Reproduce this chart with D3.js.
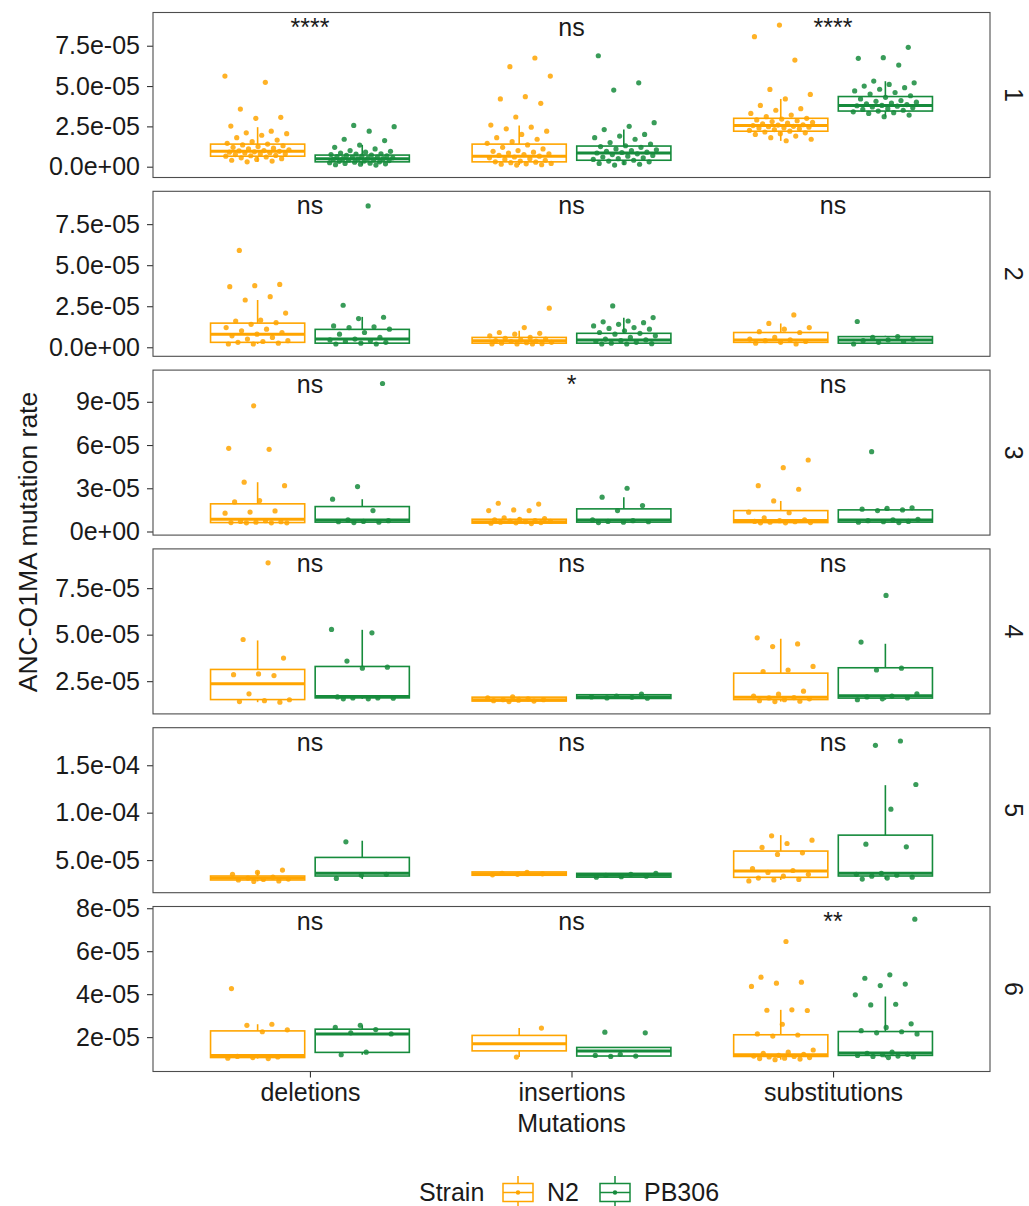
<!DOCTYPE html>
<html>
<head>
<meta charset="utf-8">
<script src="https://cdn.jsdelivr.net/npm/d3@7"></script>
<style>
  body { margin: 0; background: #fff; }
  text { font-family: "Liberation Sans", Arial, Helvetica, sans-serif; }
</style>
</head>
<body>
<svg id="chart" width="1029" height="1206"></svg>
<script>
// all rates below are in units of 1e-5
const categories = ['deletions', 'insertions', 'substitutions']
const strains = ['N2', 'PB306']
const facets = ['1', '2', '3', '4', '5', '6']

const yTicks = [
  [0, 2.5, 5, 7.5],
  [0, 2.5, 5, 7.5],
  [0, 3, 6, 9],
  [2.5, 5, 7.5],
  [5, 10, 15],
  [2, 4, 6, 8]
]
const yTickLabels = [
  ['0.0e+00', '2.5e-05', '5.0e-05', '7.5e-05'],
  ['0.0e+00', '2.5e-05', '5.0e-05', '7.5e-05'],
  ['0e+00', '3e-05', '6e-05', '9e-05'],
  ['2.5e-05', '5.0e-05', '7.5e-05'],
  ['5.0e-05', '1.0e-04', '1.5e-04'],
  ['2e-05', '4e-05', '6e-05', '8e-05']
]
const yDomains = [
  [-0.67, 9.56], [-0.55, 9.5], [-0.25, 11.2],
  [0.74, 9.61], [1.56, 18.96], [0.40, 8.08]
]

const sigLabels = [
  ['****', 'ns', '****'],
  ['ns', 'ns', 'ns'],
  ['ns', '*', 'ns'],
  ['ns', 'ns', 'ns'],
  ['ns', 'ns', 'ns'],
  ['ns', 'ns', '**']
]

// box stats [lower whisker, q1, median, q3, upper whisker] per facet, per category
const n2Box = [
  [[0.3, 0.65, 0.95, 1.4, 2.45], [0.1, 0.3, 0.65, 1.4, 2.55], [1.6, 2.2, 2.55, 3.0, 4.2]],
  [[0.2, 0.3, 0.8, 1.47, 2.88], [0.2, 0.25, 0.4, 0.6, 1.0], [0.2, 0.3, 0.45, 0.9, 1.45]],
  [[0.6, 0.62, 0.85, 1.92, 3.42], [0.55, 0.58, 0.68, 0.85, 1.0], [0.6, 0.62, 0.76, 1.45, 2.12]],
  [[1.37, 1.51, 2.36, 3.13, 4.69], [1.4, 1.43, 1.5, 1.64, 1.66], [1.4, 1.51, 1.64, 2.93, 4.78]],
  [[2.75, 2.9, 3.1, 3.32, 3.8], [3.35, 3.4, 3.55, 3.75, 3.8], [2.9, 3.18, 3.85, 5.95, 7.63]],
  [[1.0, 1.05, 1.15, 2.29, 2.6], [1.07, 1.36, 1.69, 2.08, 2.42], [0.95, 1.1, 1.18, 2.11, 3.27]]
]
const pbBox = [
  [[0.1, 0.3, 0.5, 0.72, 1.35], [0.1, 0.4, 0.85, 1.28, 2.3], [3.1, 3.45, 3.8, 4.35, 5.3]],
  [[0.2, 0.25, 0.5, 1.09, 1.85], [0.2, 0.25, 0.45, 0.85, 1.8], [0.2, 0.25, 0.45, 0.65, 0.7]],
  [[0.62, 0.65, 0.8, 1.73, 2.24], [0.62, 0.65, 0.8, 1.57, 2.38], [0.62, 0.65, 0.8, 1.5, 1.64]],
  [[1.55, 1.6, 1.68, 3.29, 5.26], [1.55, 1.57, 1.65, 1.77, 1.8], [1.5, 1.59, 1.71, 3.22, 4.51]],
  [[3.0, 3.32, 3.6, 5.28, 7.04], [3.18, 3.2, 3.4, 3.6, 3.65], [3.0, 3.32, 3.6, 7.63, 12.9]],
  [[1.18, 1.29, 2.14, 2.37, 2.55], [1.1, 1.12, 1.36, 1.52, 1.52], [1.05, 1.15, 1.26, 2.26, 3.89]]
]

const n2Points = [
  [
    [5.62,5.23,3.57,3.06,3.0,2.52,2.2,2.1,2.05,1.95,1.8,1.65,1.55,1.45,1.4,1.35,1.3,1.25,1.2,1.15,1.1,1.05,1.0,0.98,0.95,0.92,0.9,0.87,0.85,0.8,0.78,0.75,0.7,0.68,0.65,0.6,0.55,0.5,0.45,0.4,0.35,0.3],
    [6.74,6.2,5.62,4.34,4.2,3.93,3.08,2.58,2.45,2.35,2.2,2.0,1.8,1.7,1.55,1.45,1.35,1.2,1.1,1.0,0.95,0.9,0.85,0.8,0.75,0.7,0.65,0.6,0.55,0.5,0.45,0.4,0.35,0.3,0.28,0.25,0.2,0.18,0.15,0.12,0.1],
    [8.78,8.06,6.61,4.79,4.48,4.2,3.8,3.6,3.5,3.3,3.2,3.1,3.0,2.95,2.9,2.85,2.8,2.75,2.7,2.65,2.6,2.58,2.55,2.5,2.48,2.45,2.42,2.4,2.35,2.3,2.25,2.2,2.15,2.1,2.05,2.0,1.9,1.8,1.7,1.61]
  ],
  [
    [5.9,3.83,3.75,3.69,3.08,2.88,2.08,1.65,1.6,1.5,1.4,1.2,1.1,1.0,0.9,0.8,0.7,0.6,0.5,0.4,0.35,0.3,0.25,0.2,0.2],
    [2.38,1.2,0.9,0.85,0.8,0.7,0.6,0.55,0.5,0.45,0.4,0.38,0.35,0.3,0.28,0.25,0.22,0.2,0.2,0.2],
    [1.97,1.45,1.2,1.1,0.95,0.9,0.6,0.5,0.45,0.4,0.35,0.3,0.25,0.2]
  ],
  [
    [8.72,5.77,5.7,3.42,3.18,2.15,2.05,1.43,1.35,1.27,0.75,0.7,0.68,0.65,0.62,0.6,0.6,0.6],
    [1.96,1.9,1.5,1.45,1.45,0.95,0.9,0.85,0.8,0.75,0.72,0.7,0.68,0.65,0.62,0.6,0.58,0.55],
    [4.96,4.43,3.18,2.93,2.12,1.34,1.3,0.95,0.8,0.75,0.7,0.68,0.65,0.62,0.6,0.6]
  ],
  [
    [8.86,4.74,3.74,2.89,2.85,2.8,1.82,1.5,1.45,1.4,1.37],
    [1.65,1.6,1.55,1.5,1.5,1.48,1.45,1.43,1.4],
    [4.83,4.5,4.36,3.29,3.1,3.02,1.96,1.8,1.7,1.62,1.6,1.55,1.5,1.45,1.42,1.4]
  ],
  [
    [3.95,3.7,3.5,3.2,3.1,3.0,2.95,2.9,2.8,2.75],
    [3.7,3.6,3.55,3.5,3.45],
    [7.56,7.1,6.75,6.33,5.77,5.6,4.1,3.9,3.7,3.5,3.3,3.1,2.96,2.9,2.8]
  ],
  [
    [4.26,2.6,2.55,2.34,2.25,1.1,1.08,1.05,1.02,1.0],
    [2.42,1.07],
    [6.45,4.79,4.56,4.51,4.36,3.27,3.25,3.24,2.6,2.15,2.1,2.05,1.4,1.3,1.25,1.2,1.15,1.12,1.1,1.08,1.05,1.02,1.0,0.98,0.95]
  ]
]
const pbPoints = [
  [
    [2.56,2.48,2.2,1.7,1.62,1.34,1.2,1.1,1.0,0.95,0.9,0.85,0.8,0.78,0.75,0.72,0.7,0.68,0.65,0.62,0.6,0.58,0.55,0.52,0.5,0.5,0.48,0.45,0.42,0.4,0.38,0.35,0.33,0.3,0.28,0.25,0.22,0.2,0.18,0.15,0.12,0.1],
    [6.88,5.2,4.75,2.73,2.5,2.3,2.0,1.9,1.8,1.7,1.5,1.4,1.3,1.25,1.2,1.1,1.05,1.0,0.95,0.9,0.88,0.85,0.8,0.75,0.7,0.65,0.6,0.55,0.5,0.45,0.4,0.35,0.3,0.25,0.2,0.15,0.1],
    [7.4,6.76,6.72,6.3,5.31,5.2,5.1,5.0,4.9,4.8,4.7,4.6,4.5,4.4,4.3,4.2,4.1,4.05,4.0,3.95,3.9,3.85,3.8,3.78,3.75,3.7,3.65,3.6,3.55,3.5,3.45,3.4,3.35,3.3,3.2,3.1]
  ],
  [
    [8.61,2.56,1.83,1.75,1.3,1.25,1.2,1.1,0.9,0.8,0.6,0.5,0.45,0.4,0.35,0.3,0.25,0.2,0.2],
    [2.52,1.81,1.6,1.55,1.5,1.4,1.3,1.2,1.15,1.1,1.0,0.9,0.85,0.8,0.7,0.6,0.5,0.45,0.4,0.35,0.3,0.25,0.22,0.2,0.2],
    [1.57,0.65,0.6,0.5,0.45,0.4,0.35,0.3,0.2]
  ],
  [
    [10.27,3.12,2.24,1.45,0.8,0.75,0.7,0.68,0.65,0.62],
    [3.0,2.38,1.8,1.45,0.8,0.75,0.7,0.68,0.65,0.62],
    [5.54,1.64,1.6,1.55,1.5,1.45,0.85,0.8,0.75,0.7,0.68,0.65,0.62]
  ],
  [
    [5.28,5.1,3.58,3.25,3.2,1.65,1.6,1.6,1.58,1.55,1.55],
    [1.8,1.7,1.65,1.63,1.6,1.58],
    [7.11,4.6,3.2,3.1,1.82,1.7,1.65,1.6,1.55,1.5]
  ],
  [
    [6.93,3.5,3.4,3.07],
    [3.6,3.5,3.4,3.3,3.25,3.2],
    [17.56,17.1,12.97,10.37,6.68,6.4,3.6,3.5,3.4,3.3,3.2,3.1,3.0]
  ],
  [
    [2.55,2.45,2.35,2.2,2.15,1.3,1.18],
    [2.23,2.2,1.2,1.15,1.12,1.1],
    [7.49,4.9,4.74,4.47,4.4,3.97,3.53,3.5,2.62,2.45,2.3,2.25,2.2,2.15,1.3,1.25,1.2,1.18,1.15,1.12,1.1,1.08,1.05]
  ]
]

const colors = {N2: '#FFA500', PB306: '#168B3C'}
const boxes = {N2: n2Box, PB306: pbBox}
const points = {N2: n2Points, PB306: pbPoints}

const svg = d3.select('#chart')
const fontSize = 25
const left = 153, right = 990
const panelH = 165
const panelTop = (i) => 12.5 + i * 178.8

const xScale = d3.scalePoint()
  .domain(categories)
  .range([left, right])
  .padding(0.6)
const step = xScale.step()
const dodge = {N2: -0.2, PB306: 0.2}
const boxW = 0.36 * step

facets.forEach((f, i) => {
  const top = panelTop(i)
  const yScale = d3.scaleLinear()
    .domain(yDomains[i])
    .range([top + panelH, top])

  const panel = svg.append('g')

  // y axis
  const ax = panel.append('g')
    .attr('transform', `translate(${left}, 0)`)
    .call(d3.axisLeft(yScale)
      .tickValues(yTicks[i])
      .tickFormat((d, j) => yTickLabels[i][j])
      .tickSize(6)
      .tickPadding(7))
  ax.select('.domain').remove()
  ax.selectAll('line').attr('stroke', '#333').attr('stroke-width', 1.1)
  ax.selectAll('text')
    .attr('font-size', fontSize)
    .attr('font-family', '"Liberation Sans", Arial, sans-serif')
    .attr('fill', '#1a1a1a')

  categories.forEach((cat, c) => {
    strains.forEach((s) => {
      const b = boxes[s][i][c]
      const cx = xScale(cat) + dodge[s] * step
      const col = colors[s]
      const g = panel.append('g')
      // whiskers
      g.append('line')
        .attr('x1', cx).attr('x2', cx)
        .attr('y1', yScale(b[3])).attr('y2', yScale(b[4]))
        .attr('stroke', col).attr('stroke-width', 1.6)
      g.append('line')
        .attr('x1', cx).attr('x2', cx)
        .attr('y1', yScale(b[1])).attr('y2', yScale(b[0]))
        .attr('stroke', col).attr('stroke-width', 1.6)
      g.append('rect')
        .attr('x', cx - boxW / 2)
        .attr('y', yScale(b[3]))
        .attr('width', boxW)
        .attr('height', Math.max(0.5, yScale(b[1]) - yScale(b[3])))
        .attr('fill', 'white')
        .attr('stroke', col).attr('stroke-width', 1.6)
      g.append('line')
        .attr('x1', cx - boxW / 2).attr('x2', cx + boxW / 2)
        .attr('y1', yScale(b[2])).attr('y2', yScale(b[2]))
        .attr('stroke', col).attr('stroke-width', 3)

      // jittered points (deterministic spread)
      const seed = (i * 6 + c * 2 + (s === 'N2' ? 0 : 1)) * 0.37
      g.selectAll('circle')
        .data(points[s][i][c])
        .enter()
        .append('circle')
        .attr('cx', (d, k) => cx + (((k * 0.618034 + seed) % 1) - 0.5) * 0.25 * step)
        .attr('cy', (d) => yScale(d))
        .attr('r', 2.6)
        .attr('fill', col)
        .attr('fill-opacity', 0.85)
    })

    panel.append('text')
      .attr('x', xScale(cat))
      .attr('y', top + 23)
      .attr('text-anchor', 'middle')
      .attr('font-size', fontSize)
      .attr('fill', '#1a1a1a')
      .text(sigLabels[i][c])
  })

  // panel border
  panel.append('rect')
    .attr('x', left).attr('y', top)
    .attr('width', right - left).attr('height', panelH)
    .attr('fill', 'none')
    .attr('stroke', '#4d4d4d')
    .attr('stroke-width', 1.1)

  // strip label
  panel.append('text')
    .attr('transform', `translate(1014, ${top + panelH / 2}) rotate(90)`)
    .attr('text-anchor', 'middle')
    .attr('dominant-baseline', 'central')
    .attr('font-size', fontSize)
    .attr('fill', '#1a1a1a')
    .text(f)
})

// x axis under the last panel
const bottom = panelTop(5) + panelH
const xa = svg.append('g')
  .attr('transform', `translate(0, ${bottom})`)
  .call(d3.axisBottom(xScale).tickSize(6).tickPadding(6))
xa.select('.domain').remove()
xa.selectAll('line').attr('stroke', '#333').attr('stroke-width', 1.1)
xa.selectAll('text')
  .attr('font-size', fontSize)
  .attr('font-family', '"Liberation Sans", Arial, sans-serif')
  .attr('fill', '#1a1a1a')

svg.append('text')
  .attr('x', (left + right) / 2)
  .attr('y', 1132)
  .attr('text-anchor', 'middle')
  .attr('font-size', fontSize)
  .attr('fill', '#1a1a1a')
  .text('Mutations')

svg.append('text')
  .attr('transform', `translate(28, ${(panelTop(0) + bottom) / 2}) rotate(-90)`)
  .attr('text-anchor', 'middle')
  .attr('dominant-baseline', 'central')
  .attr('font-size', 26.5)
  .attr('fill', '#1a1a1a')
  .text('ANC-O1MA mutation rate')

// legend
const legend = svg.append('g')
legend.append('text')
  .attr('x', 419).attr('y', 1201)
  .attr('font-size', fontSize)
  .attr('fill', '#1a1a1a')
  .text('Strain')

const keyX = {N2: 503, PB306: 600}
strains.forEach((s) => {
  const kx = keyX[s]
  const col = colors[s]
  const k = legend.append('g')
  k.append('line')
    .attr('x1', kx + 15).attr('x2', kx + 15)
    .attr('y1', 1176).attr('y2', 1206)
    .attr('stroke', col).attr('stroke-width', 1.5)
  k.append('rect')
    .attr('x', kx).attr('y', 1183.5)
    .attr('width', 30).attr('height', 18)
    .attr('fill', 'white')
    .attr('stroke', col).attr('stroke-width', 1.5)
  k.append('line')
    .attr('x1', kx).attr('x2', kx + 30)
    .attr('y1', 1192.5).attr('y2', 1192.5)
    .attr('stroke', col).attr('stroke-width', 1.5)
  k.append('circle')
    .attr('cx', kx + 15).attr('cy', 1192.5)
    .attr('r', 2.2).attr('fill', col)
  legend.append('text')
    .attr('x', kx + 44).attr('y', 1201)
    .attr('font-size', fontSize)
    .attr('fill', '#1a1a1a')
    .text(s)
})
</script>
</body>
</html>
